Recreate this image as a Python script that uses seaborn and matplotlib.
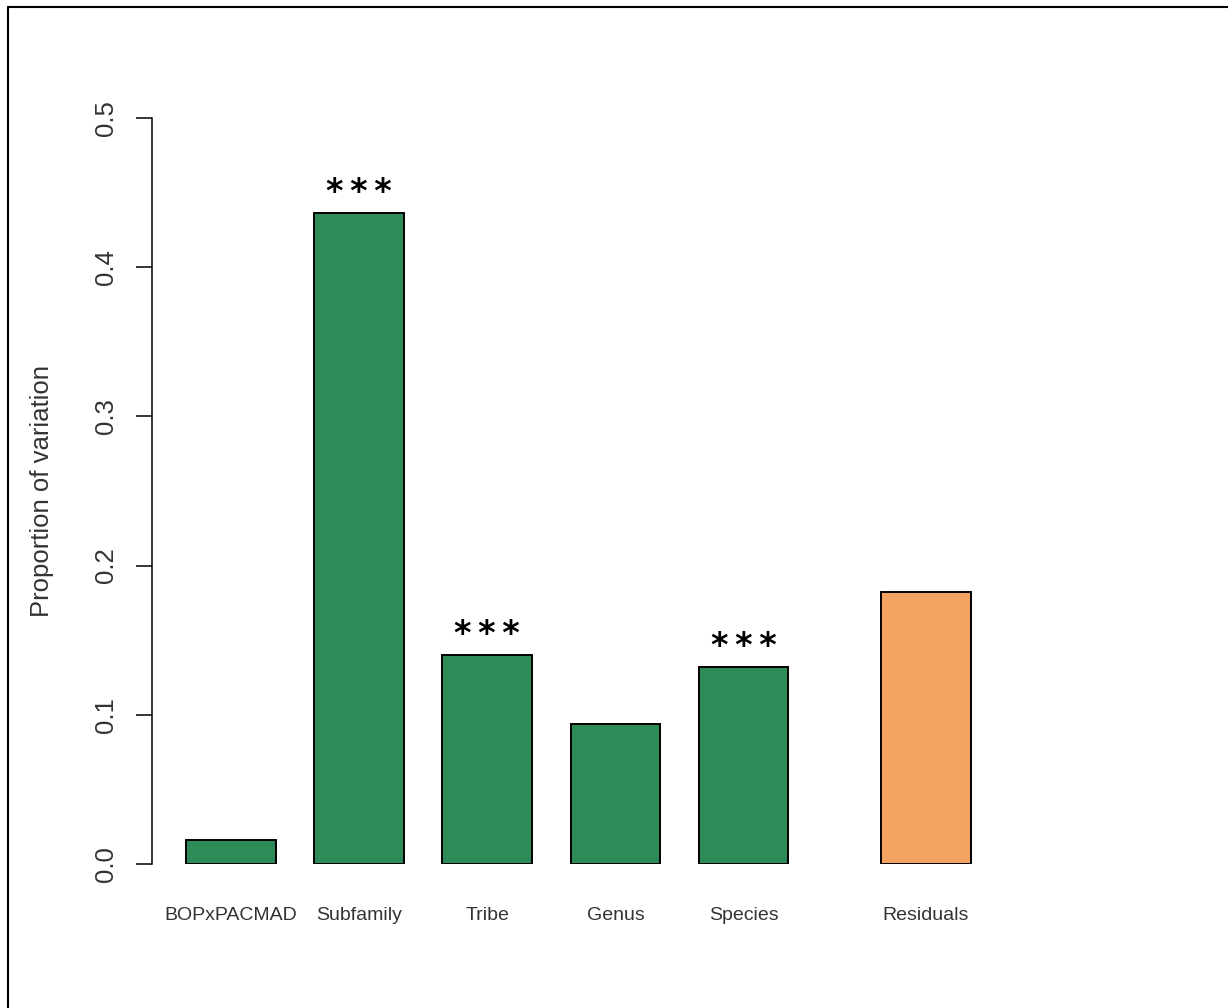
"""
Proportion of variation explained by each taxonomic level (barplot).
"""
import matplotlib
matplotlib.use("Agg")
import matplotlib.pyplot as plt
import numpy as np
import pandas as pd
import seaborn as sns
from matplotlib.lines import Line2D

LEVELS = ["BOPxPACMAD", "Subfamily", "Tribe", "Genus", "Species", "Residuals"]
PROPORTION = [0.016, 0.436, 0.140, 0.094, 0.132, 0.182]
SIGNIF = ["", "***", "***", "", "***", ""]

GREEN = "#2E8B57"
ORANGE = "#F4A460"
TEXT = "#333333"

sns.set_style("ticks")
plt.rcParams["font.family"] = ["Liberation Sans", "DejaVu Sans"]

# residuals bar sits a bit apart from the model terms
pos = np.arange(len(LEVELS), dtype=float)
pos[-1] += 0.42

df = pd.DataFrame({"pos": pos, "level": LEVELS, "prop": PROPORTION})
palette = {lv: (ORANGE if lv == "Residuals" else GREEN) for lv in LEVELS}

fig = plt.figure(figsize=(12.28, 10.08), dpi=100)
ax = fig.add_axes([152 / 1228, 144 / 1008, 948 / 1228, 746 / 1008])

sns.barplot(
    data=df, x="pos", y="prop", hue="level", palette=palette,
    native_scale=True, width=0.70, legend=False, saturation=1,
    edgecolor="black", linewidth=1.4, ax=ax,
)

for x, y, s in zip(pos, PROPORTION, SIGNIF):
    if s:
        # stars drawn slightly spaced, as in the original
        ax.annotate("\u2009".join(s), (x, y), xytext=(0, 15),
                    textcoords="offset points", ha="center", va="center",
                    fontsize=24, family="DejaVu Sans", fontweight="bold",
                    color="black", annotation_clip=False)

ax.set_xlim(-0.615, 6.78)
ax.set_ylim(0, 0.5)
ax.set_yticks([0.0, 0.1, 0.2, 0.3, 0.4, 0.5])
ax.set_yticklabels(["0.0", "0.1", "0.2", "0.3", "0.4", "0.5"],
                   rotation=90, va="center", fontsize=18.5, color=TEXT)
ax.tick_params(axis="y", length=11.5, width=1.1, pad=13, colors="black",
               labelcolor=TEXT)
ax.set_xticks(pos)
ax.set_xticklabels(LEVELS, fontsize=14, color=TEXT)
ax.tick_params(axis="x", length=0, pad=31)

ax.set_xlabel("")
ax.set_ylabel("Proportion of variation", fontsize=18.5, color=TEXT, labelpad=29)

for side in ("top", "right", "bottom"):
    ax.spines[side].set_visible(False)
ax.spines["left"].set_linewidth(1.1)
ax.spines["left"].set_color("black")

# outer frame (left and top edges visible in the original)
fig.add_artist(Line2D([8.3 / 1228, 8.3 / 1228], [0, 1 - 6.7 / 1008],
                      transform=fig.transFigure, color="black", lw=1.5))
fig.add_artist(Line2D([8.3 / 1228, 1], [1 - 6.7 / 1008, 1 - 6.7 / 1008],
                      transform=fig.transFigure, color="black", lw=1.5))

fig.savefig("out.png", dpi=100)
